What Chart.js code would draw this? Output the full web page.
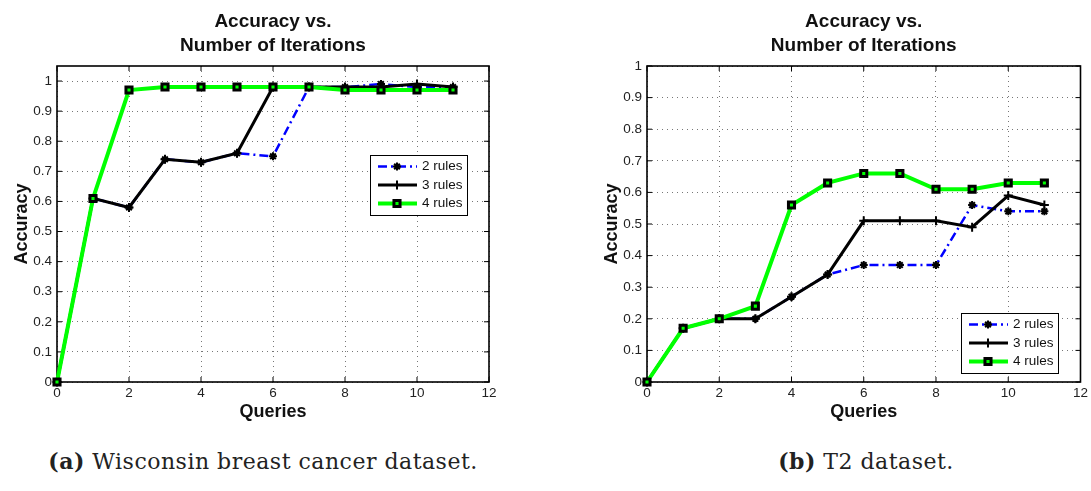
<!DOCTYPE html>
<html>
<head>
<meta charset="utf-8">
<script src="https://cdn.jsdelivr.net/npm/chart.js@4.4.1/dist/chart.umd.min.js"></script>
<style>
  body { margin: 0; background: #fff; width: 1091px; height: 491px; position: relative; overflow: hidden; }
  .panel { position: absolute; top: 0; height: 430px; }
  .cap { position: absolute; top: 448px; font-family: "DejaVu Serif", serif; font-size: 22px; letter-spacing: 0.5px;
         color: #222; transform: translateX(-50%); white-space: nowrap; }
</style>
</head>
<body>
<div class="panel" style="left:0;width:545px"><canvas id="wbc" width="545" height="430"></canvas></div>
<div class="panel" style="left:590px;width:501px"><canvas id="t2" width="501" height="430"></canvas></div>
<div class="cap" style="left:263px"><b>(a)</b> Wisconsin breast cancer dataset.</div>
<div class="cap" style="left:866px"><b>(b)</b> T2 dataset.</div>
<script>
const queries = [0, 1, 2, 3, 4, 5, 6, 7, 8, 9, 10, 11];
const ruleNames = ["2 rules", "3 rules", "4 rules"];
const queryTicks = [0, 2, 4, 6, 8, 10, 12];
const accuracyTicks = [0, 0.1, 0.2, 0.3, 0.4, 0.5, 0.6, 0.7, 0.8, 0.9, 1];

// Wisconsin breast cancer
const wbcTwo   = [0, 0.61, 0.58, 0.74, 0.73, 0.76, 0.75, 0.98, 0.98, 0.99, 0.98, 0.98];
const wbcThree = [0, 0.61, 0.58, 0.74, 0.73, 0.76, 0.98, 0.98, 0.98, 0.98, 0.99, 0.98];
const wbcFour  = [0, 0.61, 0.97, 0.98, 0.98, 0.98, 0.98, 0.98, 0.97, 0.97, 0.97, 0.97];

// T2
const t2Two   = [0, 0.17, 0.20, 0.20, 0.27, 0.34, 0.37, 0.37, 0.37, 0.56, 0.54, 0.54];
const t2Three = [0, 0.17, 0.20, 0.20, 0.27, 0.34, 0.51, 0.51, 0.51, 0.49, 0.59, 0.56];
const t2Four  = [0, 0.17, 0.20, 0.24, 0.56, 0.63, 0.66, 0.66, 0.61, 0.61, 0.63, 0.63];

const styles = [
  { borderColor: "#0000ff", borderWidth: 2.5, borderDash: [9, 4, 2, 4], pointStyle: "star",
    pointRadius: 4, pointBorderWidth: 2, pointBorderColor: "#000", pointBackgroundColor: "#000", order: 2 },
  { borderColor: "#000", borderWidth: 3, borderDash: [], pointStyle: "cross",
    pointRadius: 4.5, pointBorderWidth: 2, pointBorderColor: "#000", pointBackgroundColor: "#000", order: 1 },
  { borderColor: "#00ff00", borderWidth: 4, borderDash: [], pointStyle: "rect",
    pointRadius: 4.3, pointBorderWidth: 3, pointBorderColor: "#000", pointBackgroundColor: "#00ff00", order: 0 }
];

// box + inward ticks on all four sides
const matFrame = {
  id: "matFrame",
  beforeDatasetsDraw(chart) {
    const { ctx, chartArea: a, scales: { x, y } } = chart;
    ctx.save();
    ctx.strokeStyle = "#000";
    ctx.lineWidth = 1;
    ctx.beginPath();
    x.ticks.forEach(t => {
      const px = x.getPixelForValue(t.value);
      ctx.moveTo(px, a.bottom); ctx.lineTo(px, a.bottom - 5);
      ctx.moveTo(px, a.top); ctx.lineTo(px, a.top + 5);
    });
    y.ticks.forEach(t => {
      const py = y.getPixelForValue(t.value);
      ctx.moveTo(a.left, py); ctx.lineTo(a.left + 5, py);
      ctx.moveTo(a.right, py); ctx.lineTo(a.right - 5, py);
    });
    ctx.stroke();
    ctx.lineWidth = 1.6;
    ctx.strokeRect(a.left, a.top, a.width, a.height);
    ctx.restore();
  }
};

// legend box inside the plot
const boxLegend = {
  id: "boxLegend",
  afterDatasetsDraw(chart, args, opts) {
    const ctx = chart.ctx;
    const left = opts.left, top = opts.top, w = 97, h = 60, rowH = 18.5;
    ctx.save();
    ctx.fillStyle = "#fff";
    ctx.fillRect(left, top, w, h);
    ctx.strokeStyle = "#000";
    ctx.lineWidth = 1;
    ctx.strokeRect(left + 0.5, top + 0.5, w, h);
    chart.data.datasets.forEach((ds, i) => {
      const y = top + 11.5 + i * rowH;
      ctx.strokeStyle = ds.borderColor;
      ctx.lineWidth = ds.borderWidth;
      ctx.setLineDash(ds.borderDash);
      ctx.beginPath();
      ctx.moveTo(left + 8, y);
      ctx.lineTo(left + 47, y);
      ctx.stroke();
      ctx.setLineDash([]);
      ctx.fillStyle = ds.pointBackgroundColor;
      ctx.strokeStyle = ds.pointBorderColor;
      ctx.lineWidth = ds.pointBorderWidth;
      Chart.helpers.drawPoint(ctx, { pointStyle: ds.pointStyle, radius: ds.pointRadius,
        borderWidth: ds.pointBorderWidth, rotation: 0 }, left + 27, y);
      ctx.fillStyle = "#111";
      ctx.font = '13.5px "Liberation Sans"';
      ctx.textAlign = "left";
      ctx.textBaseline = "middle";
      ctx.fillText(ds.label, left + 52, y);
    });
    ctx.restore();
  }
};

function makeChart(id, series, yMax, legendAt, padRight) {
  const datasets = series.map((vals, i) => Object.assign({
    label: ruleNames[i],
    data: queries.map((q, k) => ({ x: q, y: vals[k] })),
    fill: false,
    tension: 0,
    clip: false,
    pointHoverRadius: 5
  }, styles[i]));

  const tickFont = { family: "Liberation Sans", size: 13.5 };
  const titleFont = { family: "Liberation Sans", size: 18, weight: "bold" };

  return new Chart(document.getElementById(id), {
    type: "line",
    data: { datasets },
    options: {
      responsive: false,
      animation: false,
      layout: { padding: { left: 2, right: padRight, top: 0, bottom: 7 } },
      plugins: {
        legend: { display: false },
        tooltip: { enabled: false },
        title: {
          display: true,
          text: ["Accuracy vs.", "Number of Iterations"],
          fullSize: false,
          color: "#111",
          font: { family: "Liberation Sans", size: 19, weight: "bold", lineHeight: 24 / 19 },
          padding: { top: 10, bottom: 8 }
        },
        boxLegend: legendAt
      },
      scales: {
        x: {
          type: "linear",
          min: 0, max: 12,
          afterBuildTicks: s => { s.ticks = queryTicks.map(v => ({ value: v })); },
          afterFit: s => { s.height = 41; },
          ticks: { color: "#222", font: tickFont, padding: 3, maxRotation: 0, callback: v => String(v) },
          grid: { color: "#777", lineWidth: 1, drawTicks: false },
          border: { display: false, dash: [1, 4] },
          title: { display: true, text: "Queries", color: "#111", font: titleFont, padding: { top: 0, bottom: 0 } }
        },
        y: {
          min: 0, max: yMax,
          afterBuildTicks: s => { s.ticks = accuracyTicks.map(v => ({ value: v })); },
          afterFit: s => { s.width = 55; },
          ticks: { color: "#222", font: tickFont, padding: 5, callback: v => String(v) },
          grid: { color: "#777", lineWidth: 1, drawTicks: false },
          border: { display: false, dash: [1, 4] },
          title: { display: true, text: "Accuracy", color: "#111", font: titleFont, padding: { top: 9, bottom: 0 } }
        }
      }
    },
    plugins: [matFrame, boxLegend]
  });
}

makeChart("wbc", [wbcTwo, wbcThree, wbcFour], 1.05, { left: 370, top: 155 }, 56);
makeChart("t2", [t2Two, t2Three, t2Four], 1, { left: 371, top: 313 }, 9);
</script>
</body>
</html>
